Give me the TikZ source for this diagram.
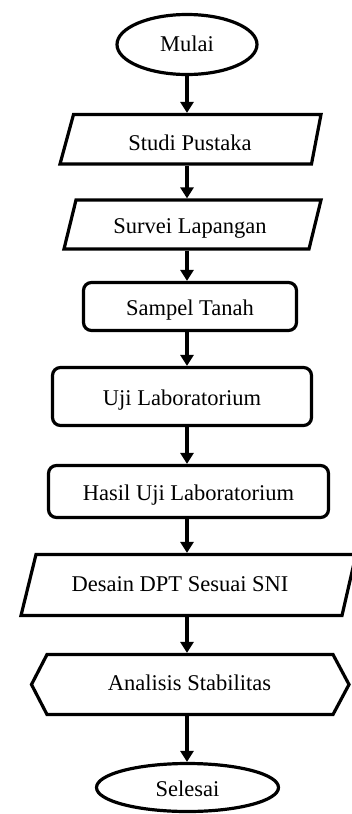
\documentclass[tikz,border=0pt]{standalone}
\usepackage{fontspec}
\setmainfont{Liberation Serif}
\usetikzlibrary{arrows.meta,shapes.geometric}
\begin{document}
\begin{tikzpicture}[x=1pt,y=-1pt,
  outline/.style={draw, line width=3.2pt, line join=miter},
  txt/.style={inner sep=0pt, font=\fontsize{22.5}{27}\selectfont,
    text height=18.4pt, text depth=0pt},
  terminal/.style={txt, outline, ellipse},
  process/.style={txt, outline, rectangle, rounded corners=8pt},
  frame/.style={txt, outer sep=1.6pt},
  flow/.style={line width=4.5pt, -{Triangle[width=13pt,length=11pt]}},
]
\useasboundingbox (0,0) rectangle (351,814);
\fill[white] (0,0) rectangle (351,814);

% common x of the vertical connectors
\coordinate (ax) at (187,0);

% start
\node[terminal, minimum width=140pt, minimum height=60pt, text height=14.4pt]
  (mulai) at (187,44.5) {Mulai};

% input: literature study
\node[frame, minimum height=49.5pt, text height=21.5pt] (studi) at (190,139.25) {Studi Pustaka};
\draw[outline] (73.5,114.5) -- (321,114.5) -- (311.5,164) -- (60,164) -- cycle;

% input: field survey
\node[frame, minimum height=49pt, text height=17.6pt] (survei) at (190,224.5) {Survei Lapangan};
\draw[outline] (76,200) -- (321,200) -- (309,249) -- (64,249) -- cycle;

% processes
\node[process, minimum width=213pt, minimum height=48pt] (sampel) at (190,306.5) {Sampel Tanah};
\node[process, minimum width=259pt, minimum height=58pt] (uji) at (182,396.5) {Uji Laboratorium};
\node[process, minimum width=280pt, minimum height=52pt] (hasil) at (188.5,491.5) {Hasil Uji Laboratorium};

% input: retaining wall design
\node[frame, minimum height=61pt, text height=13.4pt] (desain) at (180,585) {Desain DPT Sesuai SNI};
\draw[outline] (36,554.5) -- (356,554.5) -- (342,615.5) -- (21,615.5) -- cycle;

% preparation: stability analysis
\node[frame, minimum height=60pt, text height=11pt] (analisis) at (189.5,684.5) {Analisis Stabilitas};
\draw[outline] (31.5,684.5) -- (47,654.5) -- (333,654.5) -- (349,684.5) -- (333,714.5) -- (47,714.5) -- cycle;

% end
\node[terminal, minimum width=182pt, minimum height=48pt] (selesai) at (187.5,787.5) {Selesai};

% connectors
\draw[flow] (mulai.south -| ax) -- (studi.north -| ax);
\draw[flow] (studi.south -| ax) -- (survei.north -| ax);
\draw[flow] (survei.south -| ax) -- (sampel.north -| ax);
\draw[flow] (sampel.south -| ax) -- (uji.north -| ax);
\draw[flow] (uji.south -| ax) -- (hasil.north -| ax);
\draw[flow] (hasil.south -| ax) -- (desain.north -| ax);
\draw[flow] (desain.south -| ax) -- (analisis.north -| ax);
\draw[flow] (analisis.south -| ax) -- (selesai.north -| ax);
\end{tikzpicture}
\end{document}
